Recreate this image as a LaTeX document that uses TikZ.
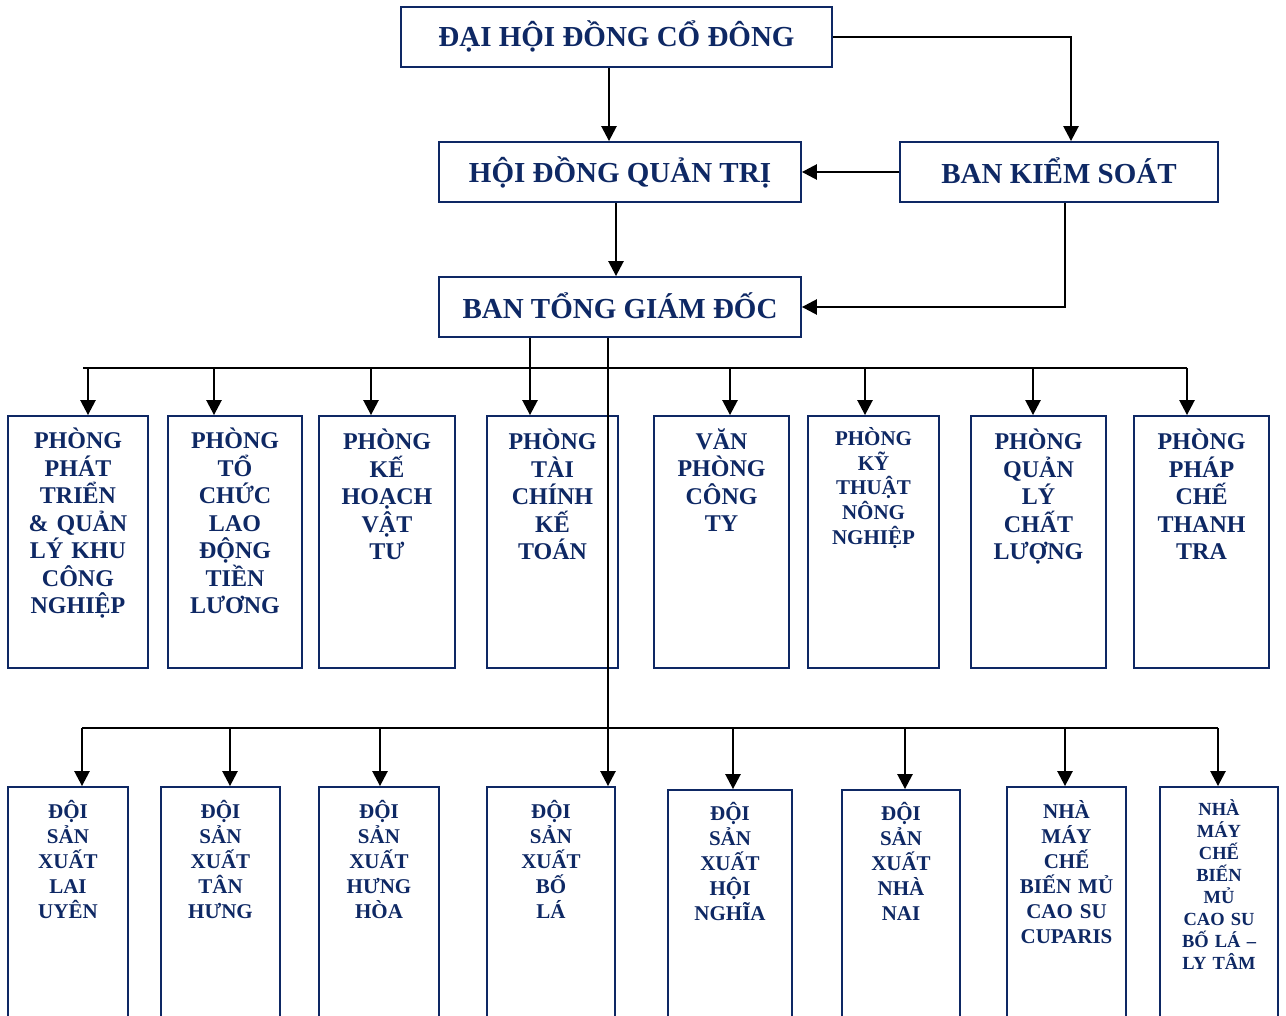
\documentclass[tikz,border=0pt]{standalone}
\usepackage{fontspec}
\setmainfont{Liberation Serif}
\usepackage{tikz}
\usetikzlibrary{positioning,arrows.meta}
\definecolor{navy}{RGB}{14,40,100}
\tikzstyle{unit}   = [draw=navy, line width=1.8pt, inner sep=0pt]
\tikzstyle{head}   = [text=navy, font=\bfseries\fontsize{29}{33}\selectfont]
\tikzstyle{dept}   = [text=navy, font=\bfseries\fontsize{24}{27.5}\selectfont, align=center, inner sep=0pt]
\tikzstyle{deptsm} = [text=navy, font=\bfseries\fontsize{21}{24.7}\selectfont, align=center, inner sep=0pt]
\tikzstyle{team}   = [text=navy, font=\bfseries\fontsize{21}{25}\selectfont, align=center, inner sep=0pt]
\tikzstyle{teamsm} = [text=navy, font=\bfseries\fontsize{18.5}{22}\selectfont, align=center, inner sep=0pt]
\tikzstyle{link}   = [line width=2.5pt]
\tikzstyle{arrow}  = [line width=2.5pt, -{Triangle[length=15pt,width=15pt]}]

\begin{document}
\begin{tikzpicture}[x=1pt,y=-1pt]
		\useasboundingbox (0,0) rectangle (1286,1016);
		\clip (0,0) rectangle (1286,1016);

		% top level
		\node[unit, minimum width=431pt, minimum height=60pt] (dhdcd) at (616.5,37) {};
		\node[head] (dhdcdt) at ([yshift=1pt]dhdcd.center) {ĐẠI HỘI ĐỒNG CỔ ĐÔNG};
		\node[unit, minimum width=362pt, minimum height=60pt] (hdqt) at (620,172) {};
		\node[head] (hdqtt) at (hdqt.center) {HỘI ĐỒNG QUẢN TRỊ};
		\node[unit, minimum width=318pt, minimum height=60pt] (bks) at (1059,172) {};
		\node[head] (bkst) at ([yshift=1pt]bks.center) {BAN KIỂM SOÁT};
		\node[unit, minimum width=362pt, minimum height=60pt] (btgd) at (620,307) {};
		\node[head] (btgdt) at ([yshift=1pt]btgd.center) {BAN TỔNG GIÁM ĐỐC};

		\draw[arrow] ([xshift=-7.5pt]dhdcd.south) -- ([xshift=-11pt]hdqt.north);
		\draw[arrow] (dhdcd.east) -| ([xshift=12pt]bks.north);
		\draw[arrow] (bks.west) -- (hdqt.east);
		\draw[arrow] ([xshift=-4pt]hdqt.south) -- ([xshift=-4pt]btgd.north);
		\draw[arrow] ([xshift=6pt]bks.south) |- (btgd.east);

		% phong ban
		\node[unit, minimum width=140pt, minimum height=252pt] (p1) at (78,542) {};
		\node[unit, minimum width=134pt, minimum height=252pt] (p2) at (235,542) {};
		\node[unit, minimum width=136pt, minimum height=252pt] (p3) at (387,542) {};
		\node[unit, minimum width=131pt, minimum height=252pt] (p4) at (552.5,542) {};
		\node[unit, minimum width=135pt, minimum height=252pt] (p5) at (721.5,542) {};
		\node[unit, minimum width=131pt, minimum height=252pt] (p6) at (873.5,542) {};
		\node[unit, minimum width=135pt, minimum height=252pt] (p7) at (1038.5,542) {};
		\node[unit, minimum width=135pt, minimum height=252pt] (p8) at (1201.5,542) {};

		\node[dept, text width=134pt, below=13pt of p1.north] (p1t) {PHÒNG\\PHÁT\\TRIỂN\\\& QUẢN\\LÝ KHU\\CÔNG\\NGHIỆP};
		\node[dept, text width=128pt, below=13pt of p2.north] (p2t) {PHÒNG\\TỔ\\CHỨC\\LAO\\ĐỘNG\\TIỀN\\LƯƠNG};
		\node[dept, text width=130pt, below=14pt of p3.north] (p3t) {PHÒNG\\KẾ\\HOẠCH\\VẬT\\TƯ};
		\node[dept, text width=125pt, below=14pt of p4.north] (p4t) {PHÒNG\\TÀI\\CHÍNH\\KẾ\\TOÁN};
		\node[dept, text width=129pt, below=13pt of p5.north] (p5t) {VĂN\\PHÒNG\\CÔNG\\TY};
		\node[deptsm, text width=125pt, below=12pt of p6.north] (p6t) {PHÒNG\\KỸ\\THUẬT\\NÔNG\\NGHIỆP};
		\node[dept, text width=129pt, below=14pt of p7.north] (p7t) {PHÒNG\\QUẢN\\LÝ\\CHẤT\\LƯỢNG};
		\node[dept, text width=129pt, below=14pt of p8.north] (p8t) {PHÒNG\\PHÁP\\CHẾ\\THANH\\TRA};

		\coordinate (busa) at (83,368);
		\coordinate (busb) at (1187,368);
		\draw[link] (busa) -- (busb);
		\coordinate (ta1) at (88,368);
		\coordinate (ta2) at (214,368);
		\coordinate (ta3) at (371,368);
		\coordinate (ta4) at (530,368);
		\coordinate (ta5) at (730,368);
		\coordinate (ta6) at (865,368);
		\coordinate (ta7) at (1033,368);
		\coordinate (ta8) at (1187,368);
		\draw[arrow] (ta1) -- (ta1 |- p1.north);
		\draw[arrow] (ta2) -- (ta2 |- p2.north);
		\draw[arrow] (ta3) -- (ta3 |- p3.north);
		\draw[arrow] (ta4 |- btgd.south) -- (ta4 |- p4.north);
		\draw[arrow] (ta5) -- (ta5 |- p5.north);
		\draw[arrow] (ta6) -- (ta6 |- p6.north);
		\draw[arrow] (ta7) -- (ta7 |- p7.north);
		\draw[arrow] (ta8) -- (ta8 |- p8.north);

		% doi san xuat, nha may
		\node[unit, minimum width=120pt, minimum height=243pt] (d1) at (68,908.5) {};
		\node[unit, minimum width=119pt, minimum height=243pt] (d2) at (220.5,908.5) {};
		\node[unit, minimum width=120pt, minimum height=243pt] (d3) at (379,908.5) {};
		\node[unit, minimum width=128pt, minimum height=243pt] (d4) at (551,908.5) {};
		\node[unit, minimum width=124pt, minimum height=240pt] (d5) at (730,910) {};
		\node[unit, minimum width=118pt, minimum height=240pt] (d6) at (901,910) {};
		\node[unit, minimum width=119pt, minimum height=243pt] (d7) at (1066.5,908.5) {};
		\node[unit, minimum width=118pt, minimum height=243pt] (d8) at (1219,908.5) {};

		\node[team, text width=114pt, below=14pt of d1.north] (d1t) {ĐỘI\\SẢN\\XUẤT\\LAI\\UYÊN};
		\node[team, text width=113pt, below=14pt of d2.north] (d2t) {ĐỘI\\SẢN\\XUẤT\\TÂN\\HƯNG};
		\node[team, text width=114pt, below=14pt of d3.north] (d3t) {ĐỘI\\SẢN\\XUẤT\\HƯNG\\HÒA};
		\node[team, text width=122pt, below=14pt of d4.north] (d4t) {ĐỘI\\SẢN\\XUẤT\\BỐ\\LÁ};
		\node[team, text width=118pt, below=13pt of d5.north] (d5t) {ĐỘI\\SẢN\\XUẤT\\HỘI\\NGHĨA};
		\node[team, text width=112pt, below=13pt of d6.north] (d6t) {ĐỘI\\SẢN\\XUẤT\\NHÀ\\NAI};
		\node[team, text width=115pt, below=14pt of d7.north] (d7t) {NHÀ\\MÁY\\CHẾ\\BIẾN MỦ\\CAO SU\\CUPARIS};
		\node[teamsm, text width=112pt, below=13pt of d8.north] (d8t) {NHÀ\\MÁY\\CHẾ\\BIẾN\\MỦ\\CAO SU\\BỐ LÁ –\\LY TÂM};

		\coordinate (busc) at (82,728);
		\coordinate (busd) at (1218,728);
		\draw[link] (busc) -- (busd);
		\coordinate (tb1) at (82,728);
		\coordinate (tb2) at (230,728);
		\coordinate (tb3) at (380,728);
		\coordinate (tb4) at (608,728);
		\coordinate (tb5) at (733,728);
		\coordinate (tb6) at (905,728);
		\coordinate (tb7) at (1065,728);
		\coordinate (tb8) at (1218,728);
		\draw[arrow] (tb1) -- (tb1 |- d1.north);
		\draw[arrow] (tb2) -- (tb2 |- d2.north);
		\draw[arrow] (tb3) -- (tb3 |- d3.north);
		\draw[arrow] (tb4 |- btgd.south) -- (tb4 |- d4.north);
		\draw[arrow] (tb5) -- (tb5 |- d5.north);
		\draw[arrow] (tb6) -- (tb6 |- d6.north);
		\draw[arrow] (tb7) -- (tb7 |- d7.north);
		\draw[arrow] (tb8) -- (tb8 |- d8.north);
	\end{tikzpicture}
\end{document}
